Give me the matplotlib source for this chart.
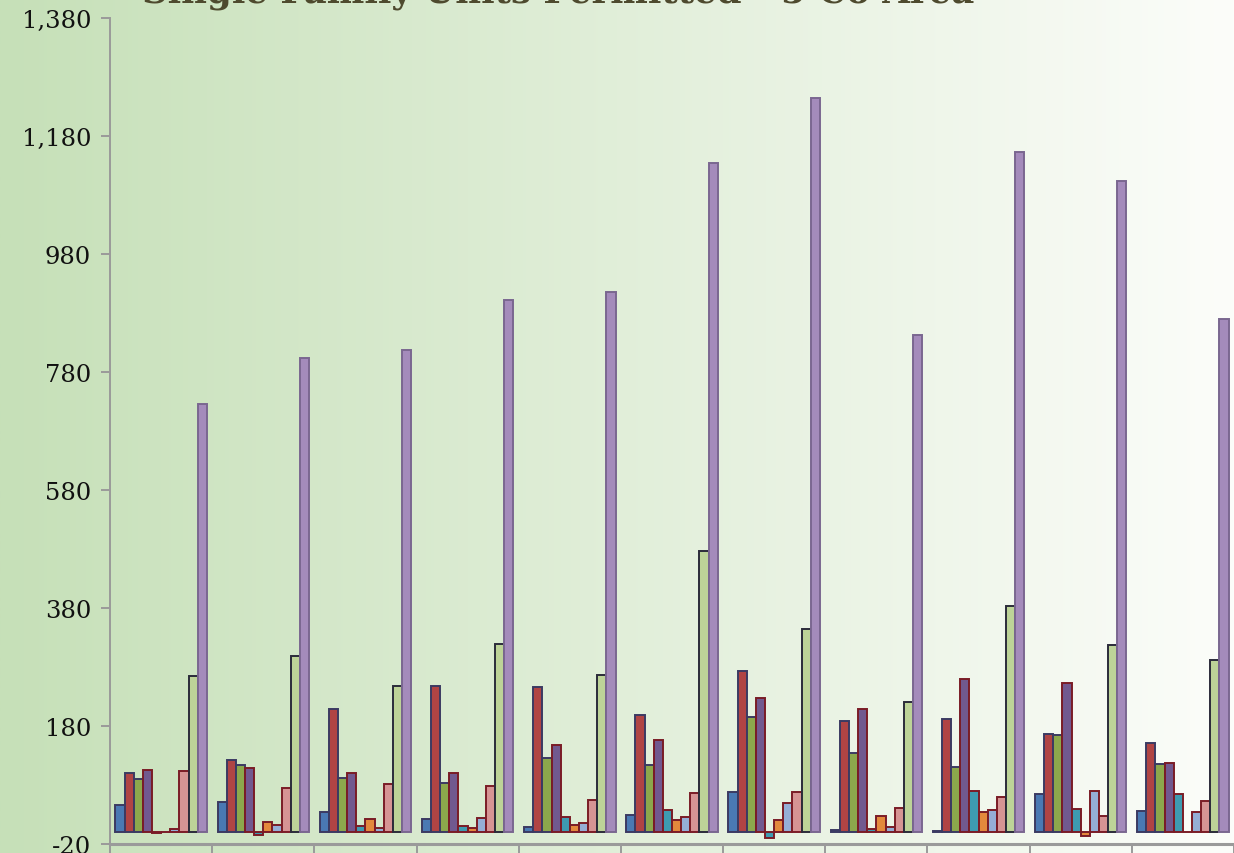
import numpy as np
import matplotlib
matplotlib.use("Agg")
import matplotlib.pyplot as plt

# ---- data ----
groups = list(range(11))
series_names = ["S1", "S2", "S3", "S4", "S5", "S6", "S7", "S8", "S9", "S10"]
s1 = [46, 52, 35, 22, 9, 29, 68, 4, 2, 64, 36]
s2 = [100, 123, 208, 247, 246, 199, 273, 189, 192, 167, 151]
s3 = [91, 114, 92, 84, 126, 114, 196, 134, 110, 164, 116]
s4 = [106, 108, 101, 101, 148, 157, 228, 208, 260, 253, 117]
s5 = [-2, -5, 10, 10, 26, 37, -10, 5, 69, 39, 64]
s6 = [1, 18, 22, 7, 13, 20, 21, 27, 35, -6, 0]
s7 = [5, 13, 7, 24, 16, 26, 49, 9, 37, 70, 34]
s8 = [104, 75, 82, 79, 55, 67, 68, 41, 59, 27, 53]
s9 = [265, 298, 248, 319, 266, 476, 344, 220, 383, 318, 292]
s10 = [726, 803, 817, 902, 915, 1134, 1244, 842, 1153, 1104, 870]
series = [s1, s2, s3, s4, s5, s6, s7, s8, s9, s10]
yticks = [-20, 180, 380, 580, 780, 980, 1180, 1380]
title = "Single Family Units Permitted - 5 Co Area"

fill_colors = ["#4A79B3", "#B04444", "#8CA84C", "#71598F", "#3E9BB1",
               "#E3893C", "#95AED6", "#D69494", "#BDD398", "#A48BBB"]
edge_colors = ["#3B3A62", "#3B3A62", "#3B3A62", "#7A1C26", "#7A1C26",
               "#7A1C26", "#7A1C26", "#7A1C26", "#2B2B3A", "#7A6790"]

W, H = 1234, 854
fig = plt.figure(figsize=(W / 100, H / 100), dpi=100)

# background gradient
bg = fig.add_axes([0, 0, 1, 1], zorder=-10)
c0 = np.array([198, 224, 184]) / 255
c1 = np.array([252, 253, 250]) / 255
t = np.linspace(0, 1, 512)[None, :, None]
grad = c0 * (1 - t) + c1 * t
bg.imshow(grad, aspect="auto", extent=[0, 1, 0, 1])
bg.axis("off")

left, right = 110 / W, 1234 / W
bottom, top = 1 - 845 / H, 1 - 19 / H
ax = fig.add_axes([left, bottom, right - left, top - bottom])
ax.patch.set_alpha(0)

x = np.arange(len(groups))
n = len(series)
bw = 0.0895
for i, vals in enumerate(series):
    ax.bar(x + (i - (n - 1) / 2) * bw, vals, width=bw,
           color=fill_colors[i], edgecolor=edge_colors[i], linewidth=1.4,
           zorder=3)

ax.set_xlim(-0.5, len(groups) - 0.5)
ax.set_ylim(-20, 1380)
ax.set_yticks(yticks)
ax.set_yticklabels([f"{v:,}" for v in yticks], family="DejaVu Serif",
                   fontsize=17.5, color="#111111")
ax.set_xticks(np.arange(len(groups) + 1) - 0.5)
ax.set_xticklabels([])

for s in ["top", "right"]:
    ax.spines[s].set_visible(False)
ax.spines["left"].set_color("#9A9A9A")
ax.spines["left"].set_linewidth(1.4)
ax.spines["bottom"].set_color("#9A9A9A")
ax.spines["bottom"].set_linewidth(2.2)
ax.tick_params(axis="y", length=6.5, width=1.4, color="#9A9A9A", pad=7)
ax.tick_params(axis="x", length=8, width=1.4, color="#9A9A9A")

fig.text(142 / W, 1 - 3 / H, title, family="DejaVu Serif", fontweight="bold",
         fontsize=25.6, color="#4E4A2E", ha="left", va="baseline")

fig.savefig("out.png", dpi=100)
